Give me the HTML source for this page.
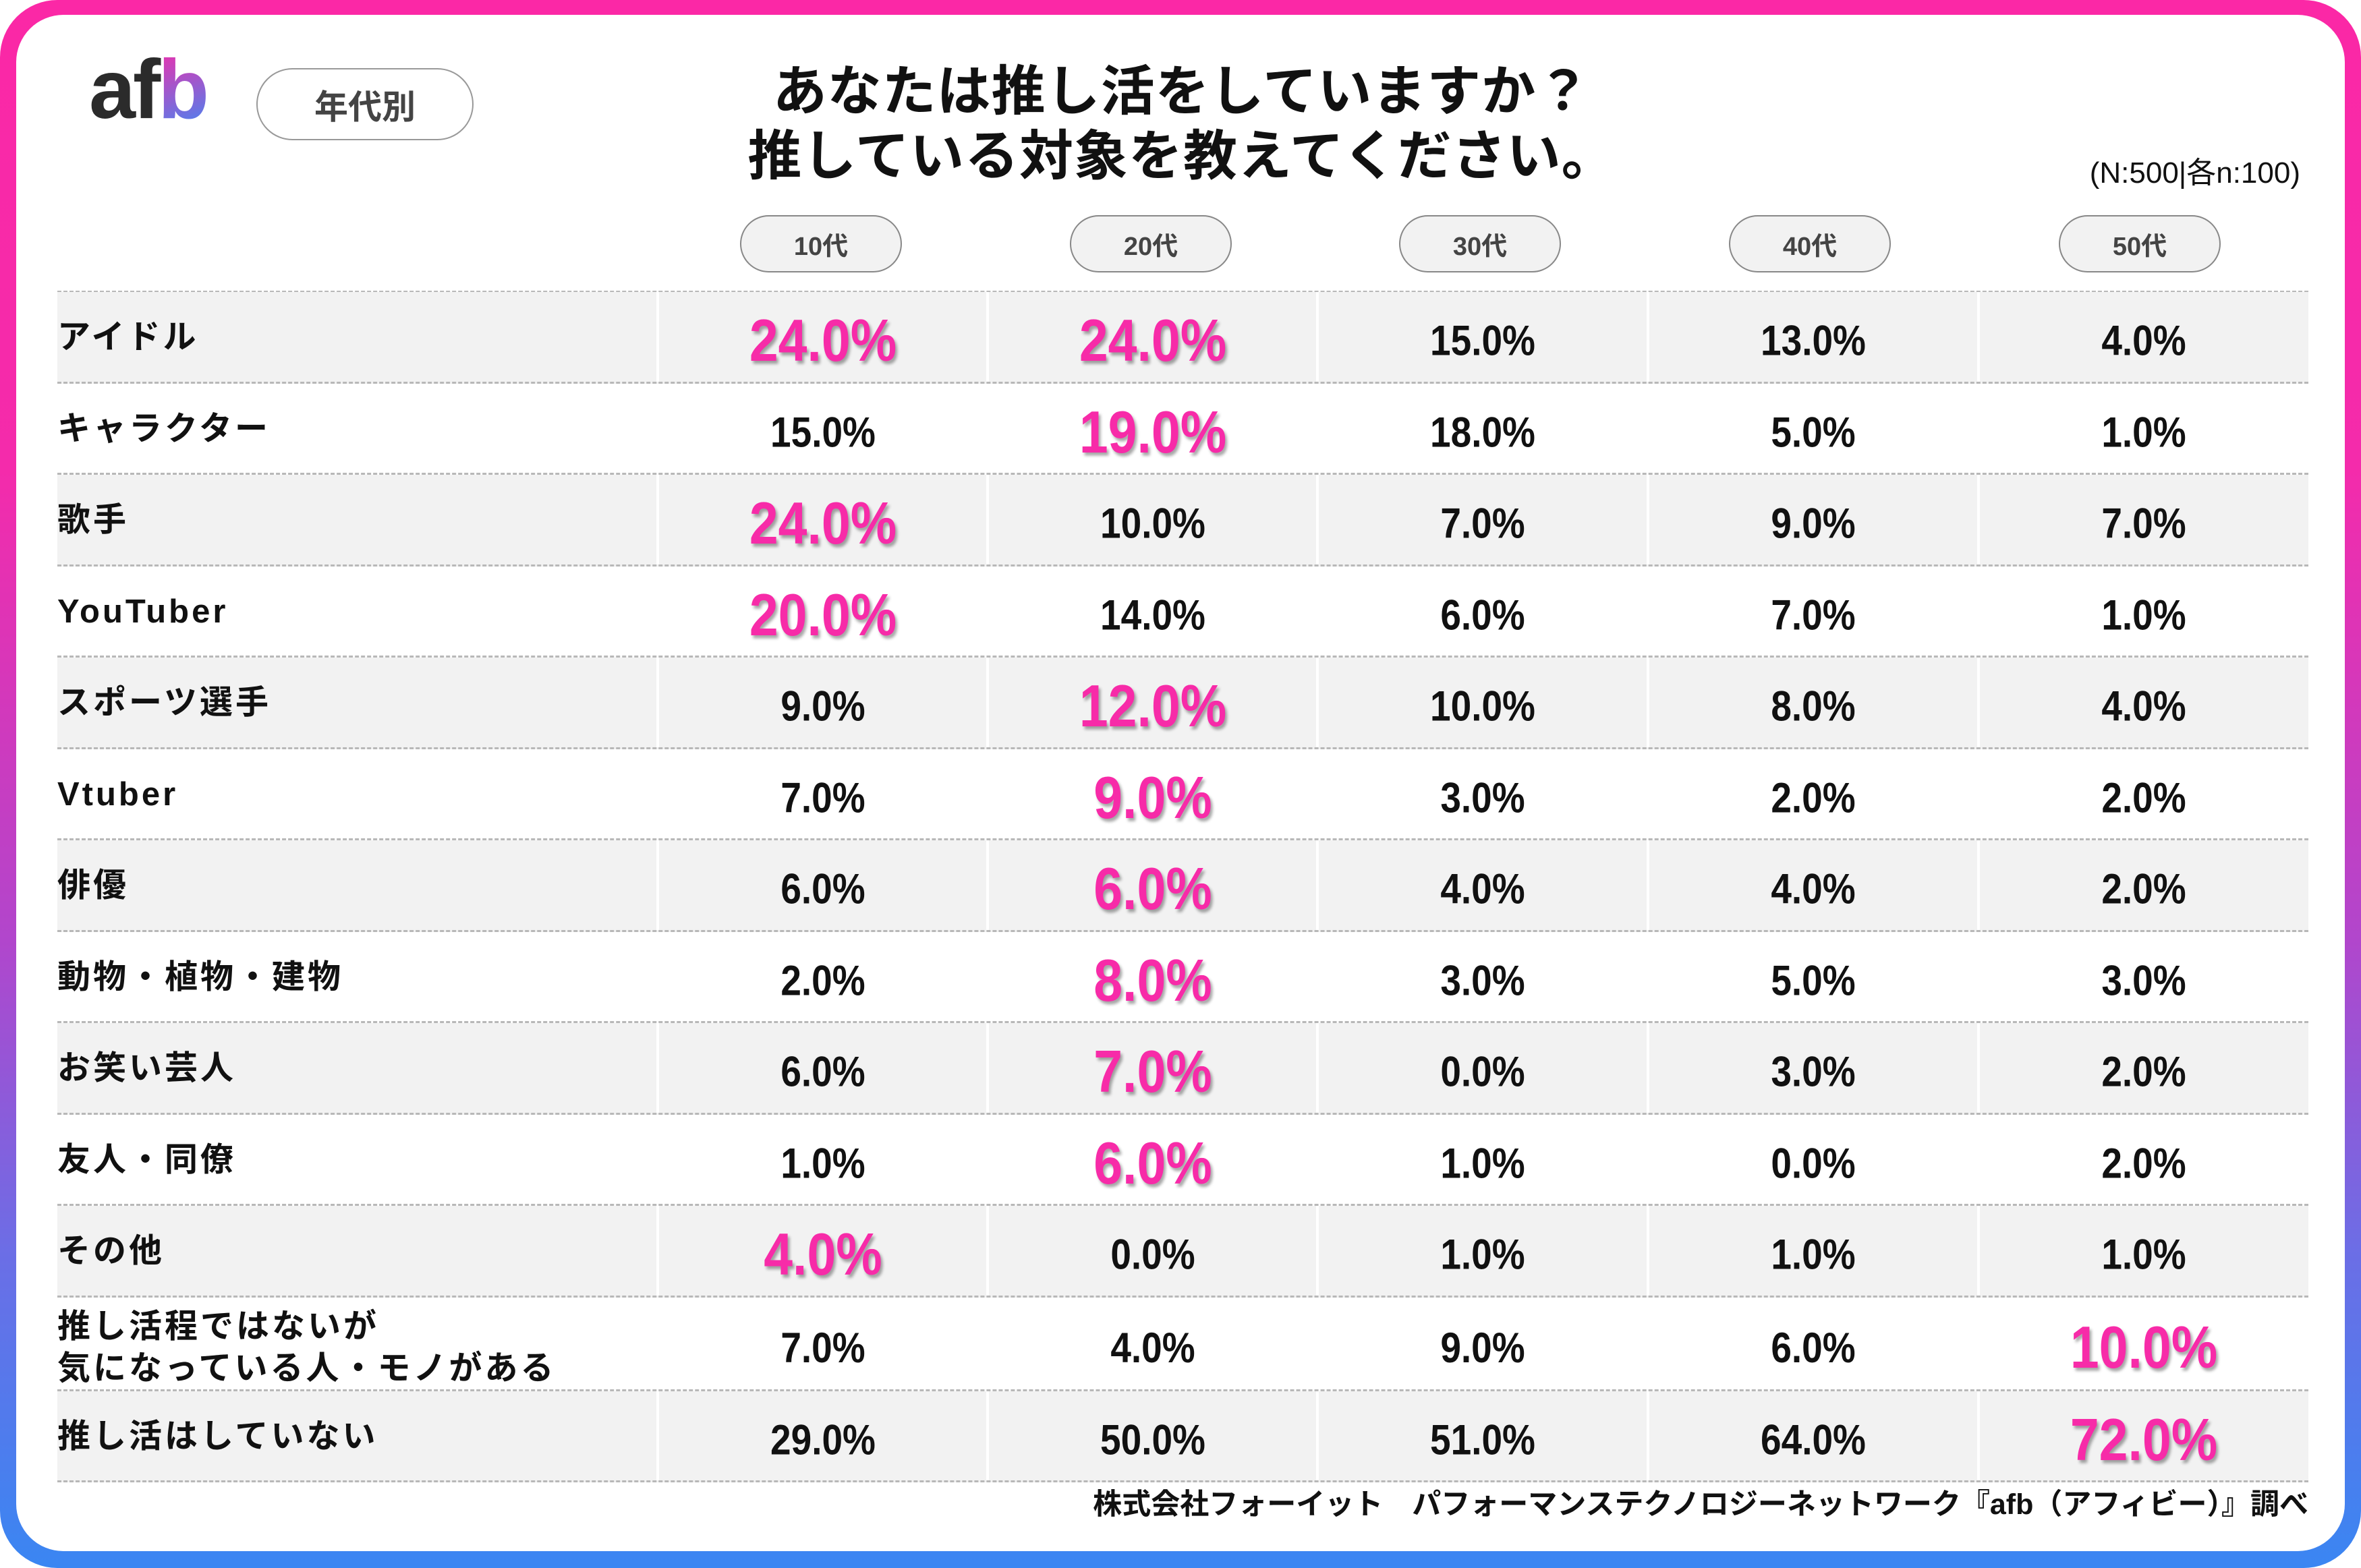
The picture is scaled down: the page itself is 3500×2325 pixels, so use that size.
<!DOCTYPE html>
<html><head><meta charset="utf-8"><style>
*{margin:0;padding:0;box-sizing:border-box}
body{width:3500px;height:2325px;position:relative;overflow:hidden;background:#fff;font-family:"Liberation Sans","Noto Sans CJK JP",sans-serif}
.frame{position:absolute;left:0;top:0;width:3500px;height:2325px;border-radius:85px;background:linear-gradient(to bottom,#fb28a6 0%,#f42bab 30%,#b146cc 60%,#6b6ee6 80%,#3a86f2 100%)}
.card{position:absolute;left:24px;top:22px;width:3452px;height:2278px;border-radius:70px;background:#fff}
.abs{position:absolute}
.pill{position:absolute;border:2px solid #888;border-radius:60px;display:flex;align-items:center;justify-content:center;color:#444;font-weight:bold}
.row{position:absolute;left:85px;width:3337px;border-bottom:3px dashed #b8b8b8}
.g{background:#f2f2f2}
.vl{position:absolute;top:0;bottom:0;width:4px;background:#fff}
.lab{position:absolute;left:0;font-size:49px;font-weight:bold;letter-spacing:4px;color:#111;font-family:"Liberation Sans","Noto Sans CJK JP",sans-serif}
.v{position:absolute;width:490px;text-align:center;font-weight:bold;font-size:55px;color:#111;transform:scaleY(1.15)}
.h{font-size:77px;color:#f72ba8;text-shadow:3px 4px 4px rgba(0,0,0,.35)}
</style></head><body>
<div class="frame"></div><div class="card"></div>
<div class="abs" style="left:132px;top:62px;font-size:124px;font-weight:bold;color:#2b2b2b;letter-spacing:-4px">af<span style="background:linear-gradient(160deg,#f72ba8,#3a8bf6);-webkit-background-clip:text;background-clip:text;color:transparent">b</span></div>
<div class="pill" style="left:380px;top:101px;width:322px;height:107px;border-color:#999;font-size:50px;font-family:'Noto Sans CJK JP',sans-serif;background:#fff">年代別</div>
<div class="abs" style="left:972px;top:88px;width:1560px;text-align:center;font-size:80px;font-weight:bold;letter-spacing:1px;line-height:96px;color:#111;font-family:'Liberation Sans','Noto Sans CJK JP',sans-serif">あなたは推し活をしていますか？<br>推している対象を教えてください。</div>
<div class="abs" style="right:90px;top:220px;font-size:44px;color:#111;font-family:'Liberation Sans','Noto Sans CJK JP',sans-serif">(N:500|各n:100)</div>
<div class="pill" style="left:1097px;top:319px;width:240px;height:85px;background:#f2f2f2;font-size:38px">10代</div>
<div class="pill" style="left:1586px;top:319px;width:240px;height:85px;background:#f2f2f2;font-size:38px">20代</div>
<div class="pill" style="left:2074px;top:319px;width:240px;height:85px;background:#f2f2f2;font-size:38px">30代</div>
<div class="pill" style="left:2563px;top:319px;width:240px;height:85px;background:#f2f2f2;font-size:38px">40代</div>
<div class="pill" style="left:3052px;top:319px;width:240px;height:85px;background:#f2f2f2;font-size:38px">50代</div>
<div class="abs" style="left:85px;top:431px;width:3337px;border-top:3px dashed #b8b8b8"></div>
<div id="t"></div>
<script>
var rows=[["アイドル",["24.0%","24.0%","15.0%","13.0%","4.0%"],[0,1]],
["キャラクター",["15.0%","19.0%","18.0%","5.0%","1.0%"],[1]],
["歌手",["24.0%","10.0%","7.0%","9.0%","7.0%"],[0]],
["YouTuber",["20.0%","14.0%","6.0%","7.0%","1.0%"],[0]],
["スポーツ選手",["9.0%","12.0%","10.0%","8.0%","4.0%"],[1]],
["Vtuber",["7.0%","9.0%","3.0%","2.0%","2.0%"],[1]],
["俳優",["6.0%","6.0%","4.0%","4.0%","2.0%"],[1]],
["動物・植物・建物",["2.0%","8.0%","3.0%","5.0%","3.0%"],[1]],
["お笑い芸人",["6.0%","7.0%","0.0%","3.0%","2.0%"],[1]],
["友人・同僚",["1.0%","6.0%","1.0%","0.0%","2.0%"],[1]],
["その他",["4.0%","0.0%","1.0%","1.0%","1.0%"],[0]],
["推し活程ではないが<br>気になっている人・モノがある",["7.0%","4.0%","9.0%","6.0%","10.0%"],[4]],
["推し活はしていない",["29.0%","50.0%","51.0%","64.0%","72.0%"],[4]]];
var h="",yy=433,cols=[975,1464,1953,2443,2933];
for(var i=0;i<rows.length;i++){var rh=(i==11)?139:135.5;var r=rows[i];
h+='<div class="row'+(i%2==0?' g':'')+'" style="top:'+yy+'px;height:'+rh+'px">';
if(i%2==0)for(var c=0;c<5;c++)h+='<div class="vl" style="left:'+(cols[c]-85-2)+'px"></div>';
if(i==11)h+='<div class="lab" style="top:12px;line-height:62px">'+r[0]+'</div>';
else h+='<div class="lab" style="top:3px;line-height:'+(rh-6)+'px">'+r[0]+'</div>';
for(var c=0;c<5;c++){var hi=r[2].indexOf(c)>=0;
h+='<div class="v'+(hi?' h':'')+'" style="left:'+(cols[c]-85)+'px;top:6px;line-height:'+(rh-2)+'px">'+r[1][c]+'</div>';}
h+='</div>';yy+=rh;}
document.getElementById("t").innerHTML=h;
</script>
<div class="abs" style="right:78px;top:2196px;font-size:43px;font-weight:bold;color:#111;white-space:nowrap;font-family:'Liberation Sans','Noto Sans CJK JP',sans-serif">株式会社フォーイット　パフォーマンステクノロジーネットワーク『afb（アフィビー）』調べ</div>
</body></html>
